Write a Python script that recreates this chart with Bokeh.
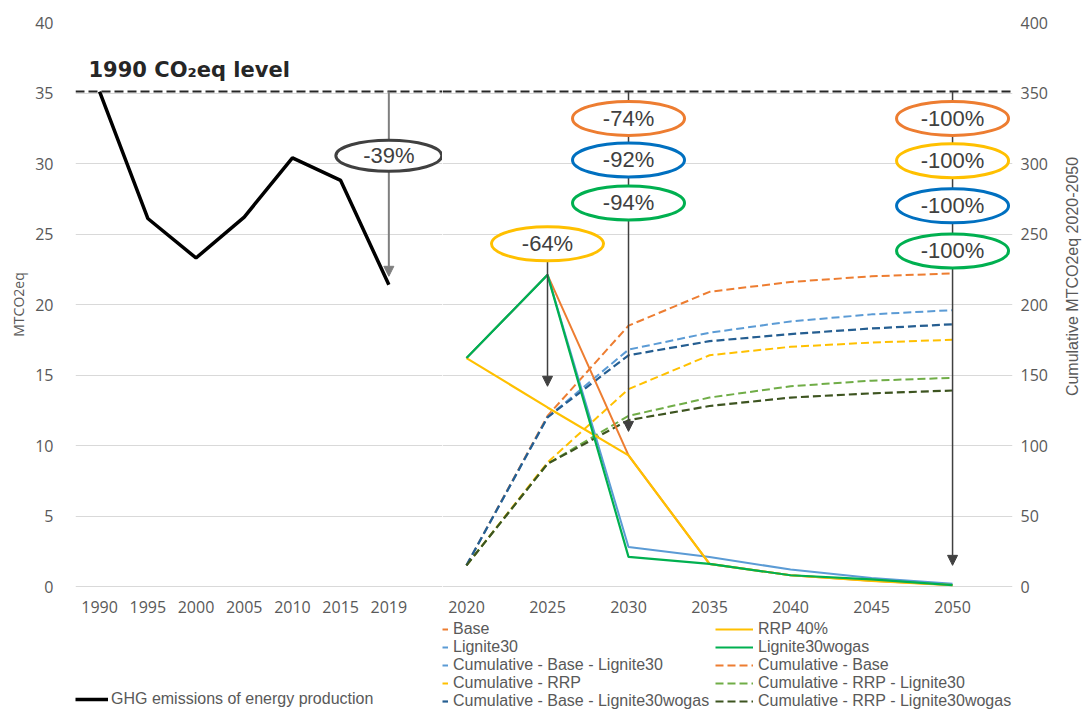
import math
from bokeh.plotting import figure
from bokeh.models import (Range1d, FixedTicker, Span, Arrow, NormalHead,
                          Label, Legend, LegendItem, ColumnDataSource)
from bokeh.layouts import row
from bokeh.embed import file_html
from bokeh.resources import INLINE
from bokeh.core.properties import value

# ---------------- data ----------------
hist_years = ["1990", "1995", "2000", "2005", "2010", "2015", "2019"]
hist_ghg = [35.1, 26.1, 23.3, 26.2, 30.4, 28.8, 21.4]
level_1990 = 35.1

years = [2020, 2025, 2030, 2035, 2040, 2045, 2050]
base = [16.2, 22.1, 9.3, 1.6, 0.8, 0.4, 0.1]
rrp40 = [16.2, 12.7, 9.3, 1.6, 0.8, 0.4, 0.1]
lignite30 = [16.2, 22.1, 2.8, 2.1, 1.2, 0.6, 0.2]
lignite30wogas = [16.2, 22.1, 2.1, 1.6, 0.8, 0.5, 0.1]

cum_base = [15, 121, 185, 209, 216, 220, 222]
cum_base_l30 = [15, 120, 168, 180, 188, 193, 196]
cum_base_l30w = [15, 120, 164, 174, 179, 183, 186]
cum_rrp = [15, 88, 140, 164, 170, 173, 175]
cum_rrp_l30 = [15, 87, 121, 134, 142, 146, 148]
cum_rrp_l30w = [15, 87, 118, 128, 134, 137, 139]

left_ticks = [0, 5, 10, 15, 20, 25, 30, 35, 40]
right_ticks = [0, 50, 100, 150, 200, 250, 300, 350, 400]

# annotations (reduction vs 1990)
anno_hist_x = [6]
anno_hist_y = [30.55]
anno_hist_text = ["-39%"]
arrow_hist_x = [6]
arrow_hist_from = [35.1]
arrow_hist_to = [22.0]

anno_x = [2025, 2030, 2030, 2030, 2050, 2050, 2050, 2050]
anno_y = [24.3, 33.2, 30.25, 27.2, 33.2, 30.2, 27.0, 23.8]
anno_text = ["-64%", "-74%", "-92%", "-94%", "-100%", "-100%", "-100%", "-100%"]
anno_color = ["#FFC000", "#ED7D31", "#0070C0", "#00B050",
              "#ED7D31", "#FFC000", "#0070C0", "#00B050"]
arrow_x = [2025, 2030, 2050]
arrow_from = [24.3, 35.1, 35.1]
arrow_to = [14.2, 11.0, 1.5]

# ---------------- styles ----------------
GRID = "#d9d9d9"
TICK_COLOR = "#595959"
TICK_FONT = "Open Sans"
TICK_SIZE = "16px"
ORANGE = "#ED7D31"
YELLOW = "#FFC000"
LBLUE = "#5B9BD5"
GREEN = "#00B050"
DBLUE = "#255E91"
LGREEN = "#70AD47"
OLIVE = "#3D5420"
DASH = "8 4"


def style_common(p):
    p.outline_line_color = None
    p.background_fill_color = "white"
    p.border_fill_color = "white"
    p.xgrid.grid_line_color = None
    p.ygrid.grid_line_color = GRID
    p.ygrid.grid_line_width = 1
    for ax in p.xaxis + p.yaxis:
        ax.axis_line_color = None
        ax.major_tick_line_color = None
        ax.minor_tick_line_color = None
        ax.major_label_text_font = TICK_FONT
        ax.major_label_text_font_size = TICK_SIZE
        ax.major_label_text_color = TICK_COLOR
    for ax in p.xaxis:
        ax.fixed_location = 0
        ax.major_label_standoff = 8


def style_legend(lg, glyph_w, standoff):
    lg.glyph_width = glyph_w
    lg.glyph_height = 18
    lg.label_height = 18
    lg.spacing = 0
    lg.padding = 0
    lg.margin = 0
    lg.label_standoff = standoff
    lg.label_text_font = "Liberation Sans"
    lg.label_text_font_size = "16px"
    lg.label_text_color = TICK_COLOR
    lg.background_fill_alpha = 0
    lg.border_line_alpha = 0


def label_strip(width, text, x, y, font, size):
    s = figure(width=width, height=709, x_range=Range1d(0, 1), y_range=Range1d(0, 1),
               min_border=0, x_axis_location=None, y_axis_location=None,
               output_backend="svg", toolbar_location=None, tools="")
    s.outline_line_color = None
    s.grid.visible = False
    s.add_layout(Label(x=x, y=y, x_units="screen", y_units="screen", angle=math.pi / 2,
                       text=text, text_font=font, text_font_size=size, text_color=TICK_COLOR,
                       text_align="center", text_baseline="middle"))
    return s


# ---------------- left axis title strip ----------------
strip_left = label_strip(32, "MTCO2eq", 18, 709 - 304, "Open Sans", "14px")

# ---------------- left figure (history) ----------------
left = figure(width=410, height=709, x_range=Range1d(-0.5, 7.113), y_range=Range1d(-8.723, 40),
              min_border_left=38, min_border_right=0, min_border_top=22, min_border_bottom=0,
              output_backend="svg", toolbar_location=None, tools="")
style_common(left)
left.yaxis.ticker = FixedTicker(ticks=left_ticks)
left.yaxis.bounds = (0, 40)
left.yaxis.major_label_standoff = 16
hist_idx = list(range(len(hist_years)))
left.xaxis.ticker = FixedTicker(ticks=hist_idx)
left.xaxis.major_label_overrides = {i: y for i, y in zip(hist_idx, hist_years)}

left.add_layout(Span(location=level_1990, dimension="width", line_color="#262626",
                     line_width=2, line_dash="9 4"))
r_ghg = left.line(hist_idx, hist_ghg, line_color="black", line_width=3.5)

left.add_layout(Arrow(end=NormalHead(size=10, fill_color="#7f7f7f", line_color="#7f7f7f"),
                      source=ColumnDataSource(dict(x=arrow_hist_x, y0=arrow_hist_from, y1=arrow_hist_to)),
                      x_start="x", y_start="y0", x_end="x", y_end="y1",
                      line_color="#7f7f7f", line_width=2))
left.ellipse(x=anno_hist_x, y=anno_hist_y, width=106, height=31,
             width_units="screen", height_units="screen",
             fill_color="white", line_color="#404040", line_width=3, level="overlay")
left.text(x=anno_hist_x, y=anno_hist_y, text=anno_hist_text, text_align="center",
          text_baseline="middle", text_font=value("Liberation Sans"), text_font_size="22px",
          text_color="#404040", level="overlay")

left.add_layout(Label(x=13, y=640, x_units="screen", y_units="screen",
                      text="1990 CO\u2082eq level", text_font="DejaVu Sans",
                      text_font_style="bold", text_font_size="21px", text_color="#262626",
                      text_baseline="alphabetic"))

lg_left = Legend(items=[LegendItem(label="GHG emissions of energy production", renderers=[r_ghg])],
                 location=(0, 1))
style_legend(lg_left, 33, 3)
left.add_layout(lg_left)

# ---------------- right figure (scenarios) ----------------
right = figure(width=616, height=709, x_range=Range1d(2018.519, 2053.70), y_range=Range1d(-87.23, 400),
               y_axis_location="right",
               min_border_left=0, min_border_right=46, min_border_top=22, min_border_bottom=0,
               output_backend="svg", toolbar_location=None, tools="")
right.extra_y_ranges = {"em": Range1d(-8.723, 40)}
style_common(right)
right.yaxis.ticker = FixedTicker(ticks=right_ticks)
right.yaxis.bounds = (0, 400)
right.yaxis.major_label_standoff = 2
right.xaxis.ticker = FixedTicker(ticks=years)

right.add_layout(Span(location=level_1990, dimension="width", line_color="#262626",
                      line_width=2, line_dash="9 4", y_range_name="em"))

# cumulative (right axis)
r_cb = right.line(years, cum_base, line_color=ORANGE, line_width=2, line_dash=DASH)
r_cbl = right.line(years, cum_base_l30, line_color=LBLUE, line_width=2, line_dash=DASH)
r_cr = right.line(years, cum_rrp, line_color=YELLOW, line_width=2, line_dash=DASH)
r_crl = right.line(years, cum_rrp_l30, line_color=LGREEN, line_width=2, line_dash=DASH)
r_cblw = right.line(years, cum_base_l30w, line_color=DBLUE, line_width=2.2, line_dash=DASH)
r_crlw = right.line(years, cum_rrp_l30w, line_color=OLIVE, line_width=2.2, line_dash=DASH)

# annual emissions (left scale)
r_base = right.line(years, base, line_color=ORANGE, line_width=2, y_range_name="em")
r_l30 = right.line(years, lignite30, line_color=LBLUE, line_width=2, y_range_name="em")
r_rrp = right.line(years, rrp40, line_color=YELLOW, line_width=2.2, y_range_name="em")
r_l30w = right.line(years, lignite30wogas, line_color=GREEN, line_width=2.2, y_range_name="em")

right.add_layout(Arrow(end=NormalHead(size=10, fill_color="#404040", line_color="#404040"),
                       source=ColumnDataSource(dict(x=arrow_x, y0=arrow_from, y1=arrow_to)),
                       x_start="x", y_start="y0", x_end="x", y_end="y1",
                       line_color="#404040", line_width=1.5, y_range_name="em"))
right.ellipse(x=anno_x, y=anno_y, width=112, height=34,
              width_units="screen", height_units="screen",
              fill_color="white", line_color=anno_color, line_width=3,
              y_range_name="em", level="overlay")
right.text(x=anno_x, y=anno_y, text=anno_text, text_align="center",
           text_baseline="middle", text_font=value("Liberation Sans"), text_font_size="22px",
           text_color="#404040", y_range_name="em", level="overlay")

lg1 = Legend(items=[LegendItem(label="Base", renderers=[r_base]),
                    LegendItem(label="Lignite30", renderers=[r_l30]),
                    LegendItem(label="Cumulative - Base - Lignite30", renderers=[r_cbl]),
                    LegendItem(label="Cumulative - RRP", renderers=[r_cr]),
                    LegendItem(label="Cumulative - Base - Lignite30wogas", renderers=[r_cblw])],
             location=(0, -1))
style_legend(lg1, 6, 5)
right.add_layout(lg1)

lg2 = Legend(items=[LegendItem(label="RRP 40%", renderers=[r_rrp]),
                    LegendItem(label="Lignite30wogas", renderers=[r_l30w]),
                    LegendItem(label="Cumulative - Base", renderers=[r_cb]),
                    LegendItem(label="Cumulative - RRP - Lignite30", renderers=[r_crl]),
                    LegendItem(label="Cumulative - RRP - Lignite30wogas", renderers=[r_crlw])],
             location=(273, -1))
style_legend(lg2, 38, 5)
right.add_layout(lg2)

# ---------------- right axis title strip ----------------
strip_right = label_strip(26, "Cumulative MTCO2eq 2020-2050", 14, 709 - 276, "Liberation Sans", "16px")

layout = row(strip_left, left, right, strip_right, spacing=0)
open("out.html", "w").write(file_html(layout, INLINE))
